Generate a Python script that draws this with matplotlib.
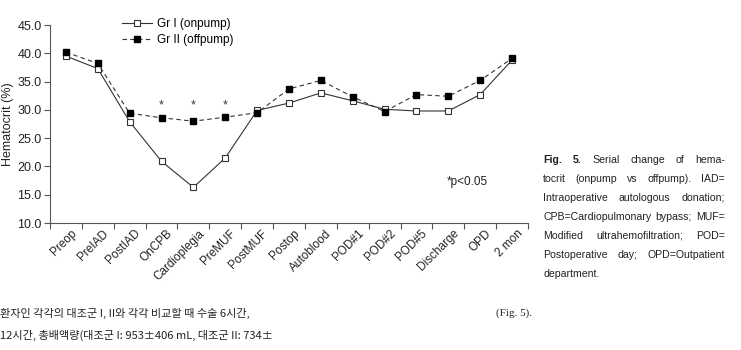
import matplotlib
matplotlib.use('Agg')
import matplotlib.pyplot as plt
import numpy as np

plt.rcParams['font.family'] = ['Liberation Sans', 'DejaVu Sans']

# data
stages = ['Preop', 'PreIAD', 'PostIAD', 'OnCPB', 'Cardioplegia', 'PreMUF', 'PostMUF',
          'Postop', 'Autoblood', 'POD#1', 'POD#2', 'POD#5', 'Discharge', 'OPD', '2 mon']
gr1 = [39.5, 37.3, 27.9, 20.9, 16.3, 21.5, 29.9, 31.2, 33.0, 31.6, 30.1, 29.8, 29.8, 32.7, 38.8]
gr2 = [40.2, 38.2, 29.4, 28.6, 28.0, 28.7, 29.5, 33.7, 35.2, 32.3, 29.7, 32.7, 32.4, 35.2, 39.1]
sig_idx = [3, 4, 5]
yticks = [10.0, 15.0, 20.0, 25.0, 30.0, 35.0, 40.0, 45.0]

caption_lines = [
    ['Fig.', '5.', 'Serial', 'change', 'of', 'hema-'],
    ['tocrit', '(onpump', 'vs', 'offpump).', 'IAD='],
    ['Intraoperative', 'autologous', 'donation;'],
    ['CPB=Cardiopulmonary', 'bypass;', 'MUF='],
    ['Modified', 'ultrahemofiltration;', 'POD='],
    ['Postoperative', 'day;', 'OPD=Outpatient'],
    ['department.'],
]
korean_lines = ['환자인 각각의 대조군 I, II와 각각 비교할 때 수술 6시간,',
                '12시간, 총배액량(대조군 I: 953±406 mL, 대조군 II: 734±']

fig = plt.figure(figsize=(7.41, 3.5), dpi=100)
ax = fig.add_axes([50 / 741, 1 - 223 / 350, 478 / 741, 198 / 350])

x = np.arange(len(stages))
ax.plot(x, gr1, '-', color='#333333', lw=0.8, marker='s', ms=4.5,
        mfc='white', mec='#333333', mew=0.8, label='Gr I (onpump)')
ax.plot(x, gr2, '--', color='#333333', lw=0.8, dashes=(4, 3), marker='s', ms=4.5,
        mfc='black', mec='black', label='Gr II (offpump)')
for i in sig_idx:
    ax.text(i, 30.7, '*', ha='center', va='center', fontsize=9, color='#333333')

ax.set_xlim(-0.5, len(stages) - 0.5)
ax.set_ylim(10, 45)
ax.set_yticks(yticks)
ax.set_yticklabels(['%.1f' % v for v in yticks], fontsize=9, color='#222222')
ax.set_xticks(np.arange(len(stages) + 1) - 0.5)
ax.set_xticklabels([])
for i, s in enumerate(stages):
    ax.text(i + 0.15, 9.2, s, rotation=45, ha='right', va='top',
            fontsize=8.5, color='#222222', rotation_mode='anchor')
ax.tick_params(axis='both', direction='out', length=4, width=0.8, color='#555555', pad=2)
for sp in ['top', 'right']:
    ax.spines[sp].set_visible(False)
for sp in ['left', 'bottom']:
    ax.spines[sp].set_color('#555555')
    ax.spines[sp].set_linewidth(0.8)
ax.set_ylabel('Hematocrit (%)', fontsize=9, color='#222222')
ax.yaxis.set_label_coords(-0.076, 0.5)
ax.text(12.6, 17.3, '*p<0.05', ha='center', va='center', fontsize=8.5, color='#222222')

leg = ax.legend(loc='upper left', bbox_to_anchor=(0.14, 1.06), frameon=False,
                fontsize=8.5, handlelength=2.6, handletextpad=0.4, labelspacing=0.35,
                borderaxespad=0)

# justified caption on the right
fig.canvas.draw()
r = fig.canvas.get_renderer()
x0, x1 = 543 / 741, 725 / 741
for li, words in enumerate(caption_lines):
    yy = 1 - (160 + li * 19) / 350
    ts = []
    for wi, w in enumerate(words):
        bold = li == 0 and wi < 2
        t = fig.text(0, yy, w, fontsize=7.6, weight='bold' if bold else 'normal',
                     color='#222222', va='center')
        ts.append(t)
    widths = [t.get_window_extent(r).width / fig.bbox.width for t in ts]
    if li < len(caption_lines) - 1 and len(ts) > 1:
        gap = (x1 - x0 - sum(widths)) / (len(ts) - 1)
    else:
        gap = 0.006
    cx = x0
    for t, w in zip(ts, widths):
        t.set_x(cx)
        cx += w + gap

kfont = ['Noto Sans CJK KR', 'DejaVu Sans']
fig.text(0.0, 1 - 313 / 350, korean_lines[0], fontsize=8, family=kfont, va='center', color='#222222')
fig.text(0.0, 1 - 335 / 350, korean_lines[1], fontsize=8, family=kfont, va='center', color='#222222')
fig.text(496 / 741, 1 - 313 / 350, '(Fig. 5).', fontsize=8, family=['Liberation Serif'],
         va='center', color='#222222')

fig.savefig('out.png', dpi=100)
